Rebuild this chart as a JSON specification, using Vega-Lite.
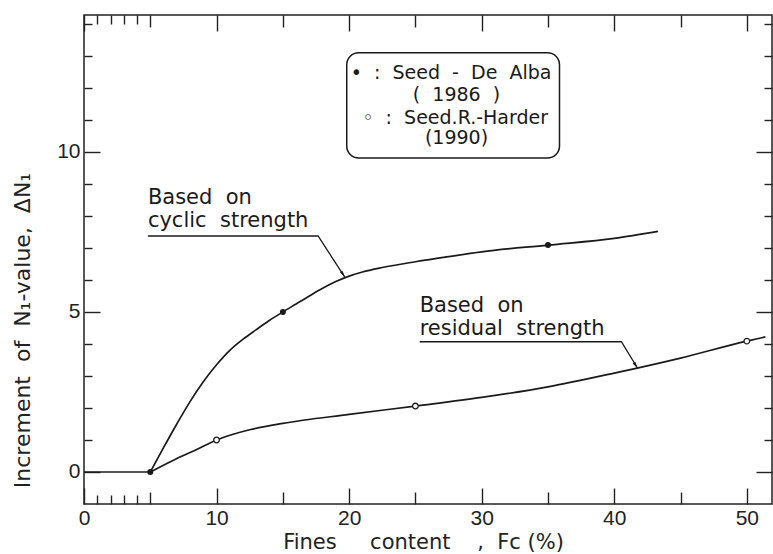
{
  "$schema": "https://vega.github.io/schema/vega-lite/v6.json",
  "width": 688,
  "height": 489,
  "autosize": {"type": "none"},
  "padding": {"left": 84, "top": 15, "right": 1, "bottom": 50},
  "background": "white",
  "config": {
    "view": {"stroke": "#222", "strokeWidth": 1.5},
    "axis": {
      "grid": false, "domain": false, "tickColor": "#222", "tickWidth": 1.4,
      "labelColor": "#222", "titleColor": "#222",
      "labelFont": "Liberation Sans", "labelFontSize": 21,
      "titleFont": "DejaVu Sans", "titleFontSize": 21, "titleFontWeight": "normal",
      "labelFlush": false, "labelOverlap": false
    }
  },
  "datasets": {
    "curves": [
      {"series": "flat", "fc": 0, "dn": 0},
      {"series": "flat", "fc": 5, "dn": 0},
      {"series": "cyclic", "fc": 5, "dn": 0},
      {"series": "cyclic", "fc": 6, "dn": 0.76},
      {"series": "cyclic", "fc": 7, "dn": 1.5},
      {"series": "cyclic", "fc": 8, "dn": 2.2},
      {"series": "cyclic", "fc": 9, "dn": 2.82},
      {"series": "cyclic", "fc": 10, "dn": 3.35},
      {"series": "cyclic", "fc": 11, "dn": 3.8},
      {"series": "cyclic", "fc": 12, "dn": 4.15},
      {"series": "cyclic", "fc": 13, "dn": 4.45},
      {"series": "cyclic", "fc": 14, "dn": 4.74},
      {"series": "cyclic", "fc": 15, "dn": 5.0},
      {"series": "cyclic", "fc": 16, "dn": 5.25},
      {"series": "cyclic", "fc": 17, "dn": 5.5},
      {"series": "cyclic", "fc": 18, "dn": 5.74},
      {"series": "cyclic", "fc": 19, "dn": 5.95},
      {"series": "cyclic", "fc": 20, "dn": 6.12},
      {"series": "cyclic", "fc": 21, "dn": 6.25},
      {"series": "cyclic", "fc": 22.5, "dn": 6.39},
      {"series": "cyclic", "fc": 25, "dn": 6.57},
      {"series": "cyclic", "fc": 27.5, "dn": 6.73},
      {"series": "cyclic", "fc": 30, "dn": 6.88},
      {"series": "cyclic", "fc": 35, "dn": 7.09},
      {"series": "cyclic", "fc": 40, "dn": 7.3},
      {"series": "cyclic", "fc": 43.3, "dn": 7.52},
      {"series": "residual", "fc": 5, "dn": 0},
      {"series": "residual", "fc": 6.75, "dn": 0.37},
      {"series": "residual", "fc": 8.5, "dn": 0.7},
      {"series": "residual", "fc": 10, "dn": 1.0},
      {"series": "residual", "fc": 11.25, "dn": 1.18},
      {"series": "residual", "fc": 12.5, "dn": 1.32},
      {"series": "residual", "fc": 15, "dn": 1.52},
      {"series": "residual", "fc": 20, "dn": 1.8},
      {"series": "residual", "fc": 25, "dn": 2.06},
      {"series": "residual", "fc": 30, "dn": 2.33},
      {"series": "residual", "fc": 35, "dn": 2.66},
      {"series": "residual", "fc": 40, "dn": 3.09},
      {"series": "residual", "fc": 45, "dn": 3.56},
      {"series": "residual", "fc": 50, "dn": 4.09},
      {"series": "residual", "fc": 51.4, "dn": 4.22}
    ],
    "seedDeAlba": [
      {"fc": 5, "dn": 0},
      {"fc": 15, "dn": 5.0},
      {"fc": 35, "dn": 7.09}
    ],
    "seedHarder": [
      {"fc": 10, "dn": 1.0},
      {"fc": 25, "dn": 2.06},
      {"fc": 50, "dn": 4.09}
    ],
    "leaders": [
      {"group": "cyclic", "step": 1, "fc": 4.82, "dn": 7.375},
      {"group": "cyclic", "step": 2, "fc": 17.66, "dn": 7.375},
      {"group": "cyclic", "step": 3, "fc": 19.67, "dn": 6.09},
      {"group": "residual", "step": 1, "fc": 25.32, "dn": 4.07},
      {"group": "residual", "step": 2, "fc": 40.54, "dn": 4.07},
      {"group": "residual", "step": 3, "fc": 41.75, "dn": 3.25}
    ],
    "arrows": [
      {"fc": 19.67, "dn": 6.09},
      {"fc": 41.75, "dn": 3.25}
    ],
    "box": [
      {"fc": 19.82, "fc2": 35.87, "dn": 13.1, "dn2": 9.81}
    ],
    "annotations": [
      {"label": "Based\u00a0 on", "fc": 4.82, "dn": 8.56},
      {"label": "cyclic\u00a0 strength", "fc": 4.82, "dn": 7.84},
      {"label": "Based\u00a0 on", "fc": 25.32, "dn": 5.19},
      {"label": "residual\u00a0 strength", "fc": 25.32, "dn": 4.47}
    ],
    "legendText": [
      {"label": "•\u00a0 :\u00a0 Seed\u00a0 -\u00a0 De\u00a0 Alba", "fc": 27.69, "dn": 12.47},
      {"label": "(\u00a0 1986\u00a0 )", "fc": 28.1, "dn": 11.78},
      {"label": "◦\u00a0 :\u00a0 Seed.R.-Harder", "fc": 28.0, "dn": 11.06},
      {"label": "(1990)", "fc": 28.1, "dn": 10.44}
    ]
  },
  "layer": [
    {
      "data": {"name": "curves"},
      "mark": {"type": "line", "interpolate": "monotone", "color": "#1a1a1a", "strokeWidth": 1.7},
      "encoding": {
        "x": {
          "field": "fc", "type": "quantitative",
          "scale": {"domain": [0, 51.9], "nice": false, "zero": false},
          "axis": {
            "orient": "bottom",
            "values": [0, 1, 2, 3, 4, 5, 10, 15, 20, 25, 30, 35, 40, 45, 50],
            "labelExpr": "datum.value % 10 === 0 ? datum.label : ''",
            "tickSize": {"condition": [{"test": "datum.value % 10 === 0", "value": -16}, {"test": "datum.value % 5 === 0", "value": -12}], "value": -9},
            "labelPadding": 19,
            "title": "Fines\u00a0\u00a0\u00a0\u00a0 content\u00a0\u00a0\u00a0 ,\u00a0 Fc (%)",
            "titleX": 339,
            "titleY": 38,
            "titleAlign": "center",
            "titleBaseline": "middle"
          }
        },
        "y": {
          "field": "dn", "type": "quantitative",
          "scale": {"domain": [-1, 14.28], "nice": false, "zero": false},
          "axis": {
            "orient": "left",
            "values": [0, 1, 2, 3, 4, 5, 6, 7, 8, 9, 10, 11, 12, 13, 14],
            "labelExpr": "datum.value % 5 === 0 ? datum.label : ''",
            "tickSize": {"condition": {"test": "datum.value % 5 === 0", "value": -16}, "value": -8},
            "labelPadding": 20,
            "title": "Increment\u00a0 of\u00a0 N₁-value,\u00a0 ΔN₁",
            "titleFontSize": 22,
            "titleX": -62,
            "titleY": 315,
            "titleAlign": "center",
            "titleBaseline": "middle"
          }
        },
        "detail": {"field": "series"}
      }
    },
    {
      "data": {"name": "seedDeAlba"},
      "mark": {"type": "point", "filled": true, "size": 36, "color": "#1a1a1a", "opacity": 1},
      "encoding": {
        "x": {
          "field": "fc", "type": "quantitative",
          "scale": {"domain": [0, 51.9], "nice": false, "zero": false},
          "axis": {
            "orient": "top",
            "values": [0, 1, 2, 3, 4, 5, 10, 15, 20, 25, 30, 35, 40, 45, 50],
            "labels": false,
            "tickSize": {"condition": [{"test": "datum.value % 10 === 0", "value": -16}, {"test": "datum.value % 5 === 0", "value": -12}], "value": -9},
            "title": null
          }
        },
        "y": {
          "field": "dn", "type": "quantitative",
          "scale": {"domain": [-1, 14.28], "nice": false, "zero": false},
          "axis": {
            "orient": "right",
            "values": [0, 1, 2, 3, 4, 5, 6, 7, 8, 9, 10, 11, 12, 13, 14],
            "labels": false,
            "tickSize": {"condition": {"test": "datum.value % 5 === 0", "value": -16}, "value": -8},
            "title": null
          }
        }
      }
    },
    {
      "data": {"name": "seedHarder"},
      "mark": {"type": "point", "filled": true, "size": 32, "fill": "white", "stroke": "#1a1a1a", "strokeWidth": 1.3, "opacity": 1},
      "encoding": {
        "x": {"field": "fc", "type": "quantitative", "scale": {"domain": [0, 51.9], "nice": false, "zero": false}, "axis": null},
        "y": {"field": "dn", "type": "quantitative", "scale": {"domain": [-1, 14.28], "nice": false, "zero": false}, "axis": null}
      }
    },
    {
      "data": {"name": "leaders"},
      "mark": {"type": "line", "color": "#1a1a1a", "strokeWidth": 1.3},
      "encoding": {
        "x": {"field": "fc", "type": "quantitative", "scale": {"domain": [0, 51.9], "nice": false, "zero": false}, "axis": null},
        "y": {"field": "dn", "type": "quantitative", "scale": {"domain": [-1, 14.28], "nice": false, "zero": false}, "axis": null},
        "detail": {"field": "group"},
        "order": {"field": "step"}
      }
    },
    {
      "data": {"name": "arrows"},
      "mark": {"type": "point", "shape": "M0,0L-0.45,-1.8L0.45,-1.8Z", "angle": -32.5, "size": 50, "filled": true, "color": "#1a1a1a", "opacity": 1},
      "encoding": {
        "x": {"field": "fc", "type": "quantitative", "scale": {"domain": [0, 51.9], "nice": false, "zero": false}, "axis": null},
        "y": {"field": "dn", "type": "quantitative", "scale": {"domain": [-1, 14.28], "nice": false, "zero": false}, "axis": null}
      }
    },
    {
      "data": {"name": "box"},
      "mark": {"type": "rect", "fill": null, "stroke": "#1a1a1a", "strokeWidth": 1.5, "cornerRadius": 12},
      "encoding": {
        "x": {"field": "fc", "type": "quantitative", "scale": {"domain": [0, 51.9], "nice": false, "zero": false}, "axis": null},
        "x2": {"field": "fc2"},
        "y": {"field": "dn", "type": "quantitative", "scale": {"domain": [-1, 14.28], "nice": false, "zero": false}, "axis": null},
        "y2": {"field": "dn2"}
      }
    },
    {
      "data": {"name": "annotations"},
      "mark": {"type": "text", "align": "left", "baseline": "middle", "font": "DejaVu Sans", "fontSize": 21, "color": "#1a1a1a"},
      "encoding": {
        "x": {"field": "fc", "type": "quantitative", "scale": {"domain": [0, 51.9], "nice": false, "zero": false}, "axis": null},
        "y": {"field": "dn", "type": "quantitative", "scale": {"domain": [-1, 14.28], "nice": false, "zero": false}, "axis": null},
        "text": {"field": "label"}
      }
    },
    {
      "data": {"name": "legendText"},
      "mark": {"type": "text", "align": "center", "baseline": "middle", "font": "DejaVu Sans", "fontSize": 19, "color": "#1a1a1a"},
      "encoding": {
        "x": {"field": "fc", "type": "quantitative", "scale": {"domain": [0, 51.9], "nice": false, "zero": false}, "axis": null},
        "y": {"field": "dn", "type": "quantitative", "scale": {"domain": [-1, 14.28], "nice": false, "zero": false}, "axis": null},
        "text": {"field": "label"}
      }
    }
  ],
  "resolve": {"axis": {"x": "independent", "y": "independent"}}
}
